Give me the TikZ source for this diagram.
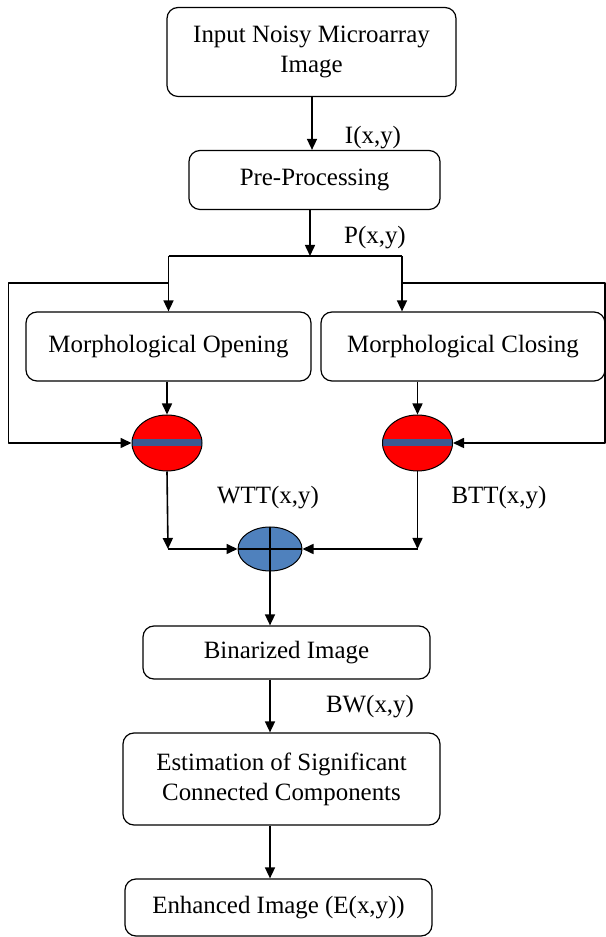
\documentclass[tikz,border=0pt]{standalone}
\usepackage{fontspec}
\setmainfont{Liberation Serif}
\usetikzlibrary{arrows.meta,shapes.geometric}
\definecolor{bandblue}{RGB}{60,90,145}
\definecolor{sumblue}{RGB}{79,129,189}
\begin{document}
\begin{tikzpicture}[>={Triangle[length=11bp,width=10bp]},line join=bevel,
  font=\fontsize{25}{30}\selectfont,
  blk/.style={draw,rectangle,rounded corners=11bp,line width=1.2bp,align=center,inner sep=0pt},
  redop/.style={draw,ellipse,fill=red,line width=1bp,minimum width=70bp,minimum height=56bp,inner sep=0pt,
    path picture={\fill[bandblue] ([yshift=-3.5bp]path picture bounding box.west) rectangle ([yshift=3.5bp]path picture bounding box.east);}},
  sumop/.style={draw,ellipse,fill=sumblue,line width=1bp,minimum width=64bp,minimum height=44bp,inner sep=0pt,
    path picture={\draw[line width=1.2bp] (path picture bounding box.north) -- (path picture bounding box.south)
      (path picture bounding box.west) -- (path picture bounding box.east);}},
  wire/.style={line width=1.6bp}]
%%
\useasboundingbox (0bp,0bp) rectangle (606bp,937bp);
\node (In) at (311.5bp,885bp) [blk,minimum width=289bp,minimum height=89bp] {Input Noisy Microarray\\Image};
  \node (Pre) at (314.5bp,757bp) [blk,minimum width=251bp,minimum height=59bp] {Pre-Processing};
  \node (MO) at (168.5bp,590.5bp) [blk,minimum width=285bp,minimum height=69bp] {Morphological Opening};
  \node (MC) at (463bp,590.5bp) [blk,minimum width=284bp,minimum height=69bp] {Morphological Closing};
  \node (WT) at (167bp,494bp) [redop] {};
  \node (BT) at (417.5bp,494bp) [redop] {};
  \node (Sum) at (270bp,388bp) [sumop] {};
  \node (Bin) at (286.5bp,284.5bp) [blk,minimum width=287bp,minimum height=53bp] {Binarized Image};
  \node (Est) at (281.5bp,158bp) [blk,minimum width=317bp,minimum height=92bp] {Estimation of Significant\\Connected Components};
  \node (Enh) at (278.5bp,29.5bp) [blk,minimum width=307bp,minimum height=57bp] {Enhanced Image (E(x,y))};
  \coordinate (Split) at (310bp,681bp);
  \coordinate (SplitL) at (168.5bp,681bp);
  \coordinate (SplitR) at (402bp,681bp);
  \coordinate (FbL) at (8.5bp,654bp);
  \coordinate (FbR) at (605bp,654bp);
  \coordinate (JL) at (168bp,388bp);
  \coordinate (JR) at (417.5bp,388bp);
  \draw [wire,->] (In.south -| 312bp,0) -- (312bp,0 |- Pre.north);
  \node (Ixy) at (373bp,799bp) {I(x,y)};
  \draw [wire,->] (Pre.south -| Split) -- (Split);
  \node (Pxy) at (375bp,699bp) {P(x,y)};
  \draw [wire] (SplitL) -- (SplitR);
  \draw [wire,->] (SplitL) -- (SplitL |- MO.north);
  \draw [wire,->] (SplitR) -- (SplitR |- MC.north);
  \draw [wire,->] (SplitL |- FbL) -- (FbL) |- (WT.west);
  \draw [wire,->] (SplitR |- FbR) -- (FbR) |- (BT.east);
  \draw [wire,->] (WT |- MO.south) -- (WT.north);
  \draw [wire,->] (BT |- MC.south) -- (BT.north);
  \draw [wire,->] (WT.south) -- (JL);
  \draw [wire,->] (JL) -- (Sum.west);
  \draw [wire,->] (BT.south) -- (JR);
  \draw [wire,->] (JR) -- (Sum.east);
  \node (Wxy) at (268bp,439bp) {WTT(x,y)};
  \node (Bxy) at (499bp,439bp) {BTT(x,y)};
  \draw [wire,->] (Sum.south) -- (Sum |- Bin.north);
  \draw [wire,->] (Sum |- Bin.south) -- (Sum |- Est.north);
  \node (BWxy) at (370bp,230bp) {BW(x,y)};
  \draw [wire,->] (Sum |- Est.south) -- (Sum |- Enh.north);
%
\end{tikzpicture}
\end{document}
